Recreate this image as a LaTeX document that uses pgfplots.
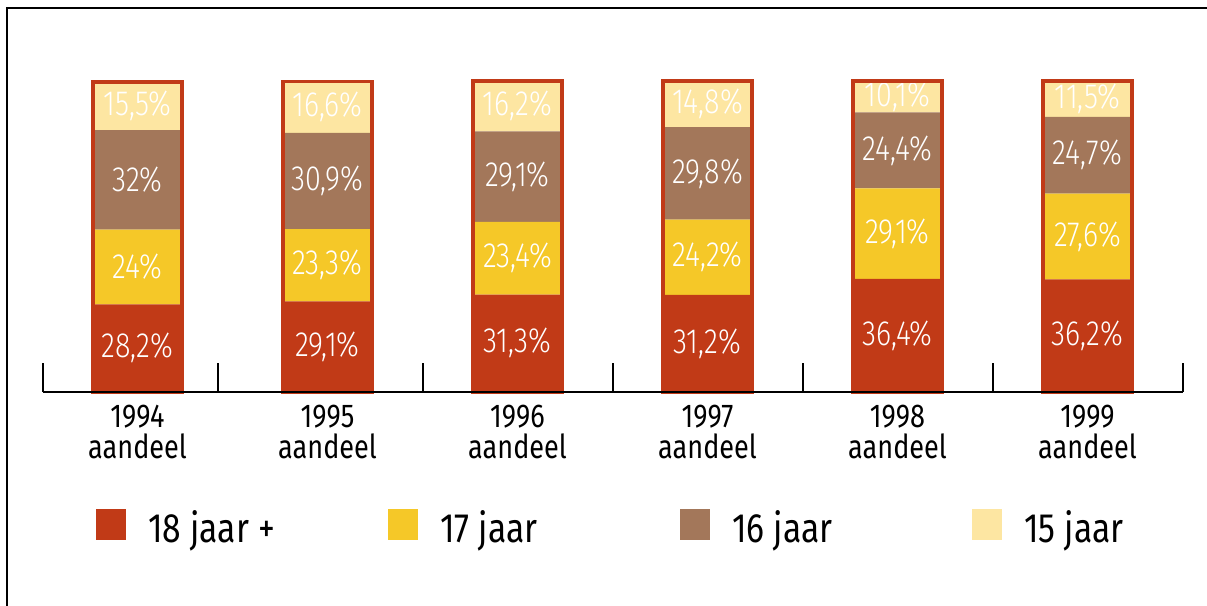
\documentclass[border=0pt]{standalone}
\usepackage{pgfplots}
\pgfplotsset{compat=1.18}
\usepackage{pgfplotstable}
\usepackage{fontspec}
\setmainfont{Fira Sans}[FakeStretch=0.82]
\newfontfamily\lightfont{Fira Sans}[FakeStretch=0.82, UprightFont={* Light}]
\definecolor{c18}{RGB}{193,58,23}
\definecolor{c17}{RGB}{245,200,40}
\definecolor{c16}{RGB}{163,119,90}
\definecolor{c15}{RGB}{253,230,162}
\pgfplotstableread{
x r18 r17 r16 r15
0 28.2 24.0 32.0 15.5
1 29.1 23.3 30.9 16.6
2 31.3 23.4 29.1 16.2
3 31.2 24.2 29.8 14.8
4 36.4 29.1 24.4 10.1
5 36.2 27.6 24.7 11.5
}\data
\pgfplotsset{
 common/.style={scale only axis, width=570pt, height=155.5pt, xmin=-0.5, xmax=5.5, ymin=0, ymax=100, at={(21.25pt,107pt)}, anchor=south west, clip=false},
}
\begin{document}
\begin{tikzpicture}
\path[use as bounding box] (0,0) rectangle (603.5pt,303pt);
\draw[line width=1pt] (3.5pt,0) -- (3.5pt,299pt) -- (603.5pt,299pt);
\begin{axis}[common, axis lines=none, ybar stacked, bar width=44.5pt,
  /pgf/number format/assume math mode=true,
  nodes near coords={\pgfmathprintnumber[fixed,precision=1,use comma]{\segval}\%},
  visualization depends on={rawy \as \segval},
  nodes near coords style={anchor=center, text=white, font=\lightfont\fontsize{17.5}{18}\selectfont},
]
\addplot[fill=c18, draw=none] table[x=x,y=r18]{\data};
\addplot[fill=c17, draw=none] table[x=x,y=r17]{\data};
\addplot[fill=c16, draw=none] table[x=x,y=r16]{\data};
\addplot[fill=c15, draw=none] table[x=x,y=r15]{\data};
\end{axis}
\begin{axis}[common, ybar, bar width=44.5pt, bar shift=0pt,
  axis x line*=bottom, axis y line=none, ytick=\empty,
  axis line style={line width=1pt, black},
  xtick={-0.5,0.426,1.5,2.5,3.5,4.5,5.5}, xticklabels={},
  tick align=inside, major tick length=14.5pt,
  tick style={line width=1pt, black},
  extra x ticks={0,1,2,3,4,5},
  extra x tick labels={{1994\\aandeel},{1995\\aandeel},{1996\\aandeel},{1997\\aandeel},{1998\\aandeel},{1999\\aandeel}},
  extra x tick style={tick style={draw=none}},
  xticklabel style={align=center, font=\fontsize{16.5}{15.5}\selectfont, yshift=-3pt},
  axis on top,
  legend columns=4,
  legend image code/.code={\fill[#1] (0pt,-6pt) rectangle (15pt,9.5pt);},
  legend style={at={(0.0469,-0.4357)}, anchor=west, draw=none, fill=none, inner sep=0pt, font=\fontsize{20.5}{22}\selectfont, nodes={inner sep=0pt}, column sep=0pt},
]
\addplot[draw=c18, fill=none, line width=1.6pt, forget plot] table[x=x, y expr=\thisrow{r18}+\thisrow{r17}+\thisrow{r16}+\thisrow{r15}]{\data};
\addlegendimage{fill=c18, draw=none}
\addlegendentry{\makebox[131pt][l]{\hspace{11pt}18 jaar +}}
\addlegendimage{fill=c17, draw=none}
\addlegendentry{\makebox[131pt][l]{\hspace{11pt}17 jaar}}
\addlegendimage{fill=c16, draw=none}
\addlegendentry{\makebox[131pt][l]{\hspace{11pt}16 jaar}}
\addlegendimage{fill=c15, draw=none}
\addlegendentry{\hspace{11pt}15 jaar}
\end{axis}
\end{tikzpicture}
\end{document}
